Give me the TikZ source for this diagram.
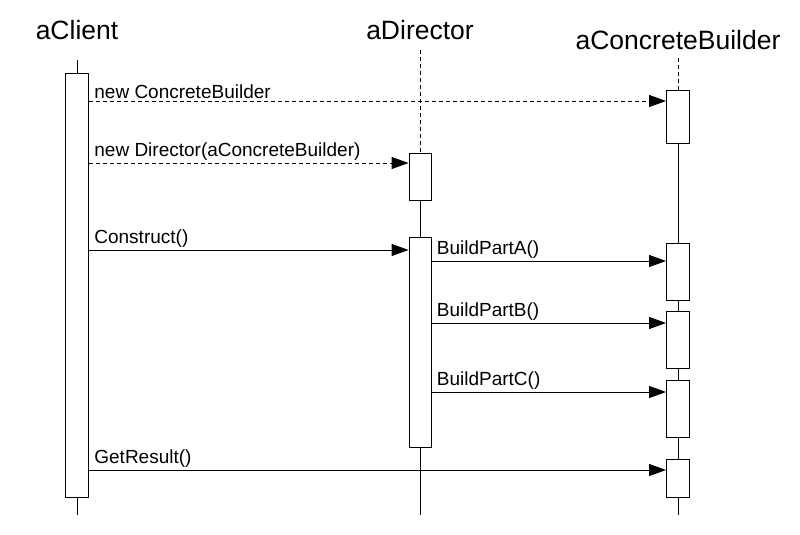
\documentclass[tikz,border=0pt]{standalone}
\usepackage{fontspec}
\setmainfont{Liberation Sans}
\usetikzlibrary{arrows.meta}
\usetikzlibrary{positioning}
\tikzset{
  title/.style={font=\fontsize{26.5}{30}\selectfont, inner sep=0},
  msg/.style={font=\fontsize{19}{22}\selectfont, inner sep=2pt, xshift=3pt},
  act/.style={draw, fill=white, line width=0.9pt, minimum width=23pt, inner sep=0},
  life/.style={line width=0.8pt},
  call/.style={-{Triangle[length=17pt,width=12pt]}, line width=0.9pt},
  create/.style={call, dash pattern=on 4pt off 3pt}
}
\begin{document}
\begin{tikzpicture}[x=1pt,y=-1pt]
  \useasboundingbox (0,0) rectangle (800,535);

  % titles
  \node[title] (client) at (77,30) {aClient};
  \node[title] (director) at (420,30) {aDirector};
  \node[title] (builder) at (678,40) {aConcreteBuilder};

  % lifelines
  \coordinate (cTop) at (77,60);
  \coordinate (cBot) at (77,515);
  \draw[life] (cTop) -- (cBot);
  \coordinate (dTop) at (420,50);
  \coordinate (dBot) at (420,515);
  \draw[life, dash pattern=on 4pt off 3pt] (dTop) -- (420,153);
  \draw[life] (420,153) -- (dBot);
  \coordinate (bTop) at (678,58);
  \coordinate (bBot) at (678,515);
  \draw[life, dash pattern=on 4pt off 3pt] (bTop) -- (678,90);
  \draw[life] (678,90) -- (bBot);

  % activations
  \node[act, minimum height=424pt, anchor=north] (cAct) at (77,73) {};
  \node[act, minimum height=47pt, minimum width=22pt, anchor=north] (dNew) at (420,153) {};
  \node[act, minimum height=210pt, minimum width=22pt, anchor=north] (dRun) at (420,237) {};
  \node[act, minimum height=53pt, anchor=north] (bNew) at (678,90) {};
  \node[act, minimum height=57pt, anchor=north] (bA) at (678,243) {};
  \node[act, minimum height=57pt, anchor=north] (bB) at (678,311) {};
  \node[act, minimum height=57pt, anchor=north] (bC) at (678,380) {};
  \node[act, minimum height=38pt, anchor=north] (bR) at (678,459) {};

  % messages
  \draw[create] (cAct.east |- 0,101) -- node[msg, pos=0, above right] {new ConcreteBuilder} (bNew.west |- 0,101);
  \draw[create] (cAct.east |- 0,163) -- node[msg, pos=0, above right] {new Director(aConcreteBuilder)} (dNew.west |- 0,163);
  \draw[call] (cAct.east |- 0,250) -- node[msg, pos=0, above right] {Construct()} (dRun.west |- 0,250);
  \draw[call] (dRun.east |- 0,261) -- node[msg, pos=0, above right] {BuildPartA()} (bA.west |- 0,261);
  \draw[call] (dRun.east |- 0,323) -- node[msg, pos=0, above right] {BuildPartB()} (bB.west |- 0,323);
  \draw[call] (dRun.east |- 0,392) -- node[msg, pos=0, above right] {BuildPartC()} (bC.west |- 0,392);
  \draw[call] (cAct.east |- 0,470) -- node[msg, pos=0, above right] {GetResult()} (bR.west |- 0,470);
\end{tikzpicture}
\end{document}
